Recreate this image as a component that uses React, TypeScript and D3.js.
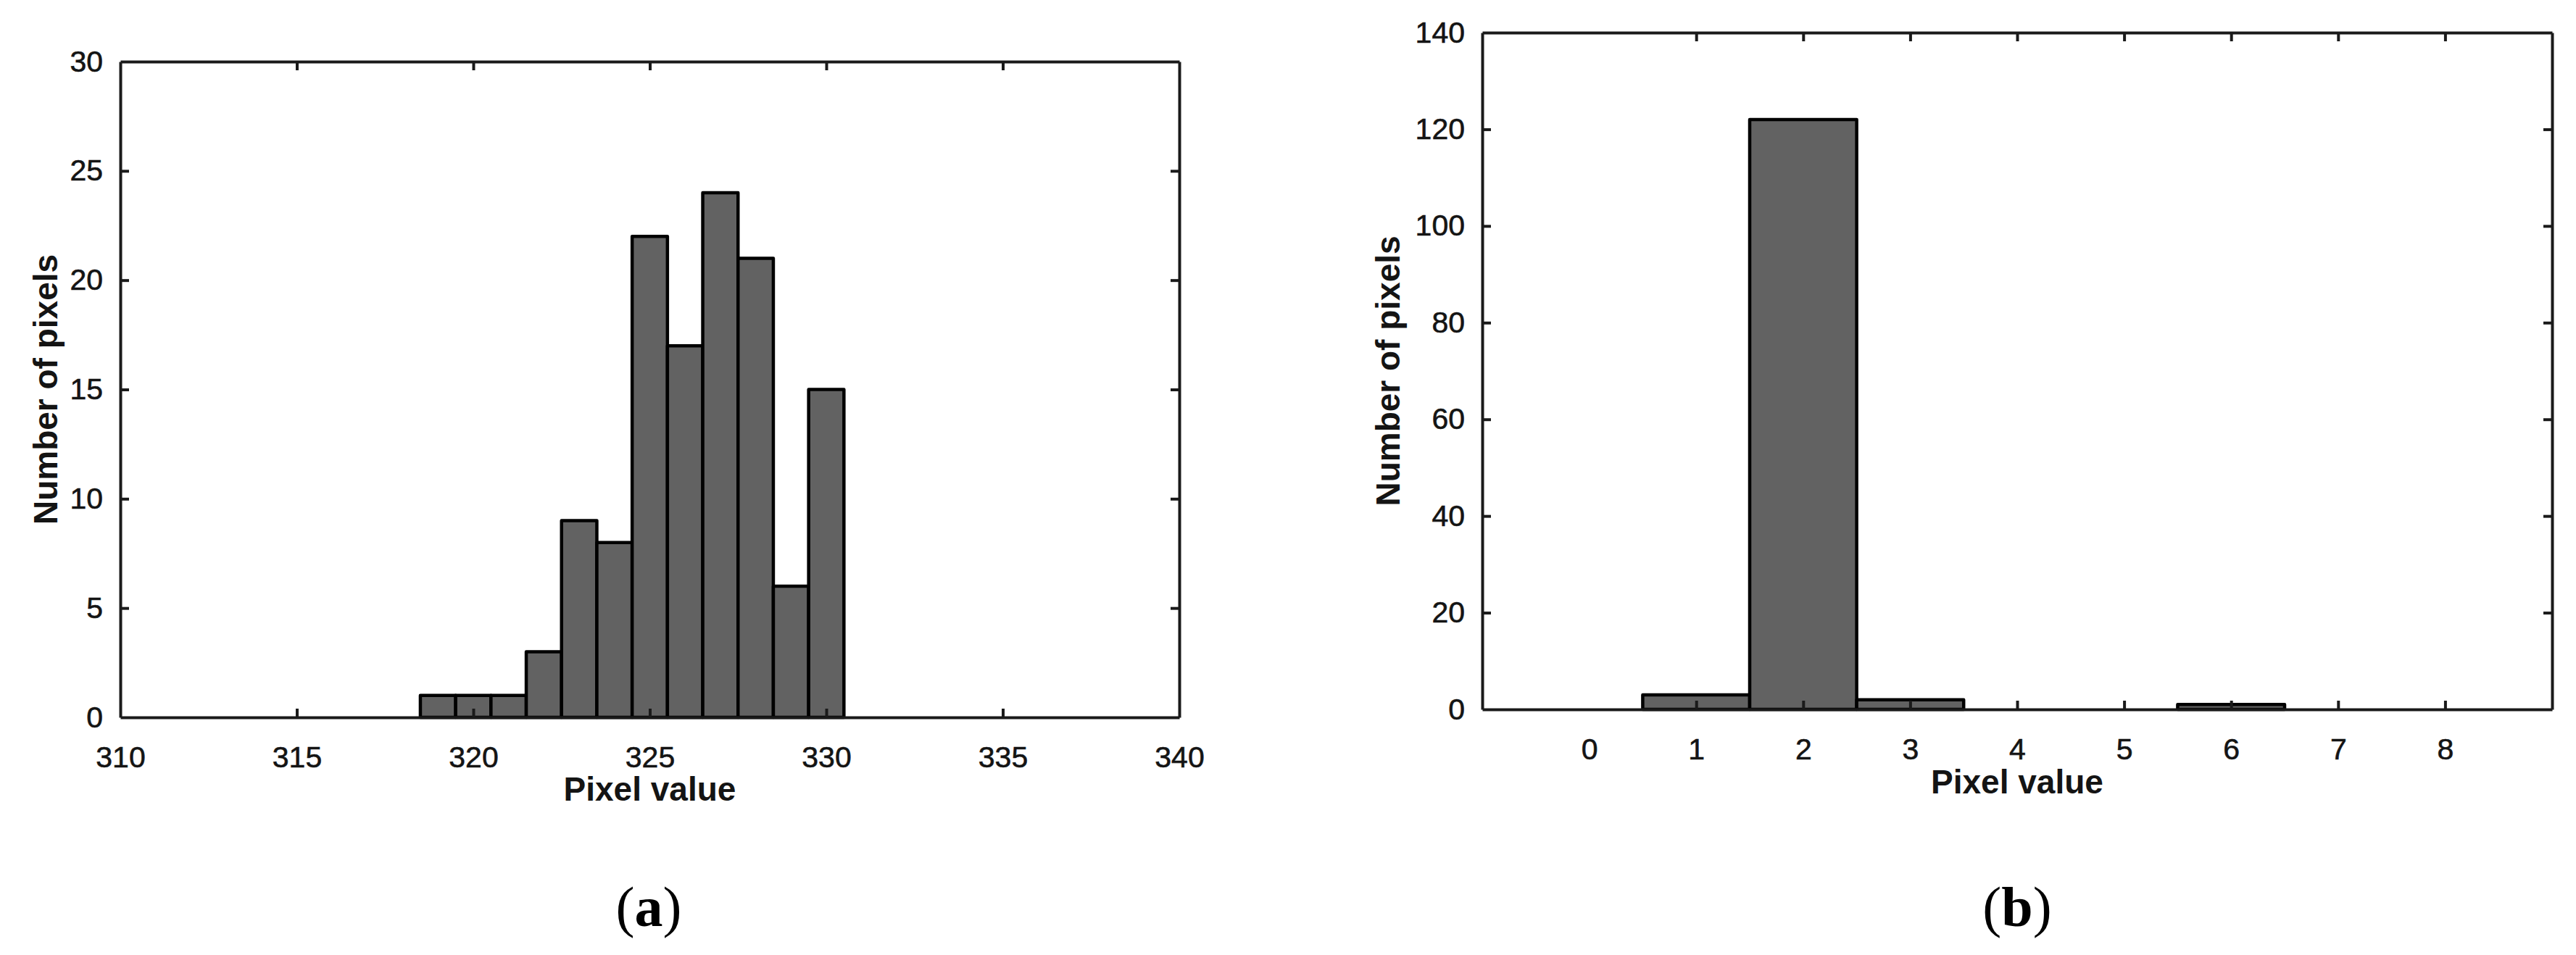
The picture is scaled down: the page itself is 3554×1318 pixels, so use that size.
import { useRef, useEffect } from 'react';
import * as d3 from 'd3';

// panel (a): histogram of pixel values around 325
const binsA = [319, 320, 321, 322, 323, 324, 325, 326, 327, 328, 329, 330];
const countsA = [1, 1, 1, 3, 9, 8, 22, 17, 24, 21, 6, 15];
const xTicksA = [310, 315, 320, 325, 330, 335, 340];
const yTicksA = [0, 5, 10, 15, 20, 25, 30];

// panel (b): histogram of small pixel values
const binsB = [1, 2, 3, 6];
const countsB = [3, 122, 2, 1];
const xTicksB = [0, 1, 2, 3, 4, 5, 6, 7, 8];
const yTicksB = [0, 20, 40, 60, 80, 100, 120, 140];

const W = 3554;
const H = 1318;
const SANS = '"Liberation Sans", Arial, Helvetica, sans-serif';

const drawPanel = (svg, p) => {
  const x = d3.scaleLinear().domain(p.xDomain).range([p.left, p.right]);
  const y = d3.scaleLinear().domain(p.yDomain).range([p.bottom, p.top]);
  const g = svg.append('g');

  // bars, one bin wide each
  g.selectAll('rect.bar')
    .data(p.bins.map((b, i) => ({ b, c: p.counts[i] })))
    .enter().append('rect')
    .attr('class', 'bar')
    .attr('x', d => x(d.b - 0.5))
    .attr('width', d => x(d.b + 0.5) - x(d.b - 0.5))
    .attr('y', d => y(d.c))
    .attr('height', d => y(0) - y(d.c))
    .attr('fill', '#626262')
    .attr('stroke', '#000')
    .attr('stroke-width', 4.5)
    .attr('stroke-linejoin', 'round');

  const styleAxis = sel => {
    sel.select('.domain').attr('stroke', '#1a1a1a').attr('stroke-width', 4);
    sel.selectAll('.tick line').attr('stroke', '#1a1a1a').attr('stroke-width', 4);
    sel.selectAll('.tick text')
      .attr('font-family', SANS)
      .attr('font-size', 41)
      .attr('fill', '#141414')
      .attr('stroke', '#141414')
      .attr('stroke-width', 0.6);
  };

  g.append('g')
    .attr('transform', `translate(0,${p.bottom})`)
    .call(d3.axisBottom(x).tickValues(p.xTicks).tickSizeInner(-12).tickSizeOuter(0).tickPadding(40))
    .call(styleAxis);
  g.append('g')
    .attr('transform', `translate(0,${p.top})`)
    .call(d3.axisTop(x).tickValues(p.xTicks).tickFormat(() => '').tickSizeInner(-12).tickSizeOuter(0))
    .call(styleAxis);
  g.append('g')
    .attr('transform', `translate(${p.left},0)`)
    .call(d3.axisLeft(y).tickValues(p.yTicks).tickSizeInner(-12).tickSizeOuter(0).tickPadding(24))
    .call(styleAxis);
  g.append('g')
    .attr('transform', `translate(${p.right},0)`)
    .call(d3.axisRight(y).tickValues(p.yTicks).tickFormat(() => '').tickSizeInner(-12).tickSizeOuter(0))
    .call(styleAxis);

  // edge ticks sit on the frame corners, hide them
  g.selectAll('.tick line').filter(function () {
    const t = d3.select(this.parentNode).datum();
    return t === p.xDomain[0] || t === p.xDomain[1] || t === p.yDomain[0] || t === p.yDomain[1];
  }).remove();

  g.append('text')
    .attr('x', (p.left + p.right) / 2)
    .attr('y', p.xTitleY)
    .attr('text-anchor', 'middle')
    .attr('font-family', SANS)
    .attr('font-weight', 'bold')
    .attr('font-size', 46)
    .attr('fill', '#141414')
    .text('Pixel value');

  g.append('text')
    .attr('transform', `translate(${p.yTitleX},${(p.top + p.bottom) / 2}) rotate(-90)`)
    .attr('text-anchor', 'middle')
    .attr('font-family', SANS)
    .attr('font-weight', 'bold')
    .attr('font-size', 46)
    .attr('fill', '#141414')
    .text('Number of pixels');

  const cap = g.append('text')
    .attr('x', p.capX)
    .attr('y', 1278)
    .attr('text-anchor', 'middle')
    .attr('font-family', '"Liberation Serif", "Times New Roman", serif')
    .attr('font-size', 78)
    .attr('fill', '#000');
  cap.append('tspan').text('(');
  cap.append('tspan').attr('font-weight', 'bold').text(p.letter);
  cap.append('tspan').text(')');
};

const App = () => {
  const ref = useRef(null);

  useEffect(() => {
    const svg = d3.select(ref.current);
    svg.selectAll('*').remove();

    drawPanel(svg, {
      bins: binsA, counts: countsA, xTicks: xTicksA, yTicks: yTicksA,
      xDomain: [310, 340], yDomain: [0, 30],
      left: 166, right: 1627, top: 85, bottom: 990,
      xTitleY: 1105, yTitleX: 79, capX: 895, letter: 'a',
    });
    drawPanel(svg, {
      bins: binsB, counts: countsB, xTicks: xTicksB, yTicks: yTicksB,
      xDomain: [-1, 9], yDomain: [0, 140],
      left: 2045, right: 3521, top: 45, bottom: 979,
      xTitleY: 1095, yTitleX: 1931, capX: 2783, letter: 'b',
    });
  }, []);

  return (
    <svg
      ref={ref}
      width={W}
      height={H}
      style={{ position: 'absolute', left: 0, top: 0, background: '#fff' }}
    />
  );
};

export default App;
